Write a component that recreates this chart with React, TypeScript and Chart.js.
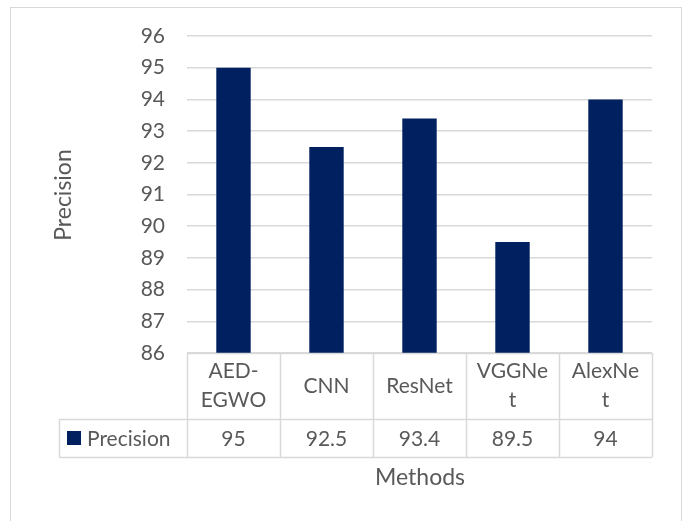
import React, { useEffect, useRef } from "react";
import { Chart, registerables } from "chart.js";
Chart.register(...registerables);

const categoryLines: string[][] = [["AED-", "EGWO"], ["CNN"], ["ResNet"], ["VGGNe", "t"], ["AlexNe", "t"]];
const categories = ["AED-EGWO", "CNN", "ResNet", "VGGNet", "AlexNet"];
const seriesName = "Precision";
const precision = [95, 92.5, 93.4, 89.5, 94];
const valueLabels = ["95", "92.5", "93.4", "89.5", "94"];
const yMin = 86;
const yMax = 96;
const xTitle = "Methods";
const yTitle = "Precision";

const FONT = "Lato, 'Open Sans', sans-serif";
const TEXT = "#595959";
const LINE = "#d9d9d9";
const BAR = "#002060";

const tablePlugin = {
  id: "dataTable",
  beforeDraw(chart: any) {
    const ctx = chart.ctx;
    ctx.save();
    ctx.fillStyle = "#ffffff";
    ctx.fillRect(0, 0, chart.width, chart.height);
    ctx.strokeStyle = LINE;
    ctx.lineWidth = 1;
    ctx.strokeRect(10.5, 7.5, 671, 530);
    ctx.restore();
  },
  afterDraw(chart: any) {
    const ctx = chart.ctx;
    const xs = chart.scales.x;
    const area = chart.chartArea;
    const n = categories.length;
    const colW = (area.right - area.left) / n;
    const top = area.bottom;
    const row1 = top + 66;
    const row2 = row1 + 38;
    const legLeft = 59;
    ctx.save();
    ctx.strokeStyle = LINE;
    ctx.lineWidth = 1.5;
    ctx.beginPath();
    ctx.moveTo(area.left, top + 0.5);
    ctx.lineTo(area.right, top + 0.5);
    ctx.moveTo(legLeft, row1 + 0.5);
    ctx.lineTo(area.right, row1 + 0.5);
    ctx.moveTo(legLeft, row2 + 0.5);
    ctx.lineTo(area.right, row2 + 0.5);
    for (let i = 0; i <= n; i++) {
      const x = Math.round(area.left + i * colW) + 0.5;
      ctx.moveTo(x, top);
      ctx.lineTo(x, row2);
    }
    ctx.moveTo(legLeft + 0.5, row1);
    ctx.lineTo(legLeft + 0.5, row2);
    ctx.stroke();

    ctx.fillStyle = TEXT;
    ctx.font = `21px ${FONT}`;
    ctx.textAlign = "center";
    ctx.textBaseline = "middle";
    const lh = 29;
    for (let i = 0; i < n; i++) {
      const cx = xs.getPixelForValue(i);
      const lines = categoryLines[i];
      const cy = (top + row1) / 2;
      lines.forEach((l, j) => {
        ctx.fillText(l, cx, cy + (j - (lines.length - 1) / 2) * lh);
      });
      ctx.fillText(valueLabels[i], cx, (row1 + row2) / 2 + 1);
    }
    // legend key
    const my = (row1 + row2) / 2;
    ctx.fillStyle = BAR;
    ctx.fillRect(67, my - 7, 14, 14);
    ctx.fillStyle = TEXT;
    ctx.textAlign = "left";
    ctx.fillText(seriesName, 87, my + 1);

    // axis titles
    ctx.font = `23px ${FONT}`;
    ctx.textAlign = "center";
    ctx.fillText(xTitle, 420, 478);
    ctx.translate(64, 195);
    ctx.rotate(-Math.PI / 2);
    ctx.fillText(yTitle, 0, 0);
    ctx.restore();
  },
};

export default function App() {
  const ref = useRef<HTMLCanvasElement>(null);
  useEffect(() => {
    if (!ref.current) return;
    const chart = new Chart(ref.current, {
      type: "bar",
      data: {
        labels: categories,
        datasets: [
          {
            label: seriesName,
            data: precision,
            backgroundColor: BAR,
            categoryPercentage: 1,
            barPercentage: 0.37,
          },
        ],
      },
      options: {
        responsive: false,
        animation: false,
        layout: { padding: { left: 0, right: 34, top: 36, bottom: 168 } },
        plugins: { legend: { display: false }, tooltip: { enabled: false } },
        scales: {
          x: { display: false },
          y: {
            min: yMin,
            max: yMax,
            ticks: {
              stepSize: 1,
              color: TEXT,
              padding: 22,
              font: { family: FONT, size: 21 },
            },
            grid: { color: LINE, lineWidth: 1.5, drawTicks: false },
            border: { display: false },
            afterFit: (s: any) => {
              s.width = 187;
            },
          },
        },
      },
      plugins: [tablePlugin],
    });
    return () => chart.destroy();
  }, []);
  return (
    <div style={{ position: "fixed", left: 0, top: 0, width: 686, height: 521 }}>
      <canvas ref={ref} width={686} height={521} style={{ width: 686, height: 521 }} />
    </div>
  );
}
